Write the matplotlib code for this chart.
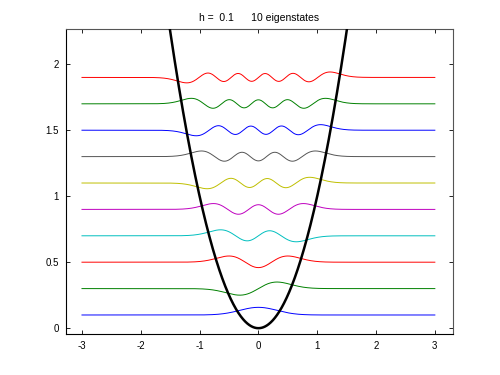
import numpy as np
import matplotlib
matplotlib.use("Agg")
import matplotlib.pyplot as plt

plt.rcParams['font.family'] = ['Liberation Sans', 'DejaVu Sans']

# --- data ---
h = 0.1                                   # "h = 0.1"
n_states = 10                             # "10 eigenstates"
energies = [0.1, 0.3, 0.5, 0.7, 0.9, 1.1, 1.3, 1.5, 1.7, 1.9]   # baseline levels
phase = [1, 1, 1, -1, 1, 1, 1, 1, 1, 1]    # sign of each eigenvector as drawn
amp_ground = 0.058                        # peak height of ground state above its level
colors = ['b', 'g', 'r', 'c', 'm', 'y', 'k', 'b', 'g', 'r']
x_ticks = [-3, -2, -1, 0, 1, 2, 3]
y_ticks = [0, 0.5, 1, 1.5, 2]
x_range = (-3, 3)

# --- eigenstates of H = -h^2 d2/dx2 + x^2 (Hermite functions) ---
x = np.linspace(x_range[0], x_range[1], 1201)
xi = x / np.sqrt(h)
psi = [np.pi ** -0.25 * np.exp(-xi ** 2 / 2)]
psi.append(np.sqrt(2.0) * xi * psi[0])
for n in range(1, n_states - 1):
    psi.append(np.sqrt(2.0 / (n + 1)) * xi * psi[n] - np.sqrt(n / (n + 1)) * psi[n - 1])
scale = amp_ground / np.max(psi[0])
V = x ** 2

fig = plt.figure(figsize=(5, 3.75), dpi=100)
ax = fig.add_axes([0.131, 0.109, 0.774, 0.813])

for n in range(n_states):
    c = '#555555' if colors[n] == 'k' else colors[n]
    ax.plot(x, energies[n] + phase[n] * scale * psi[n], color=c, lw=0.7, zorder=2)
ax.plot(x, V, color='k', lw=1.8, zorder=3)

ax.set_xlim(-3.28, 3.3)
ax.set_ylim(-0.045, 2.265)
ax.set_xticks(x_ticks)
ax.set_xticklabels([str(t) for t in x_ticks])
ax.set_yticks(y_ticks)
ax.set_yticklabels(['0', '0.5', '1', '1.5', '2'])
ax.tick_params(direction='in', length=3, width=0.6, labelsize=7,
               top=True, right=True, pad=5)
for s in ax.spines.values():
    s.set_linewidth(0.8)
ax.spines['top'].set_color('#555555')
ax.spines['right'].set_color('#555555')
ax.set_title('h =  0.1      10 eigenstates', fontsize=7.5, pad=6)

fig.savefig('out.png', dpi=100)
